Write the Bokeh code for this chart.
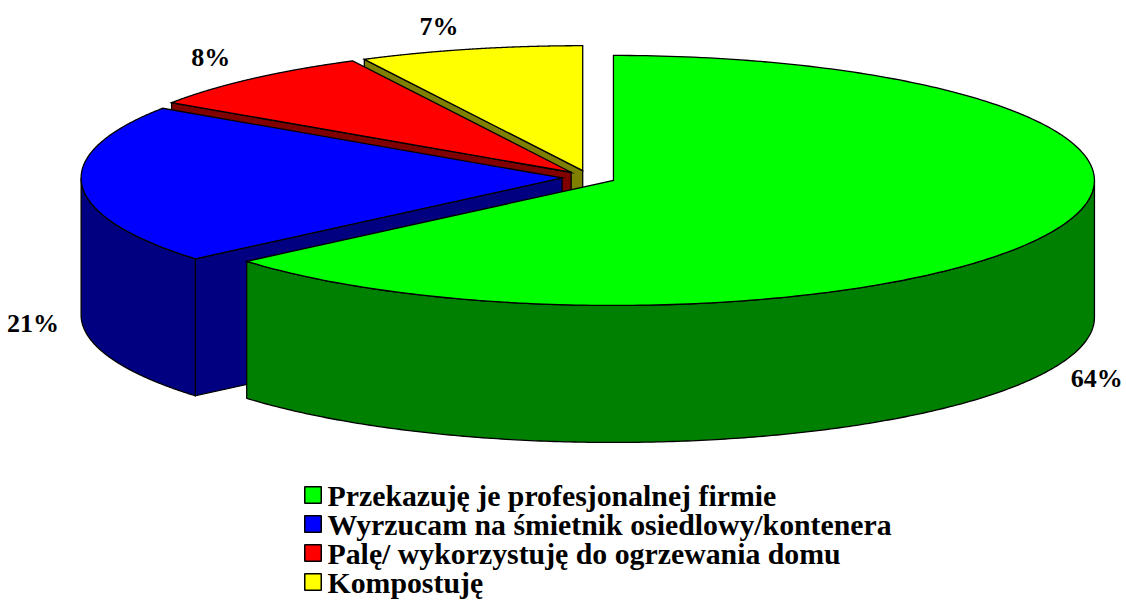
import numpy as np
from bokeh.plotting import figure
from bokeh.models import Range1d
from bokeh.core.properties import value
from bokeh.embed import file_html
from bokeh.resources import INLINE

# ---------------- data ----------------
categories = [
    "Przekazuję je profesjonalnej firmie",
    "Wyrzucam na śmietnik osiedlowy/kontenera",
    "Palę/ wykorzystuję do ogrzewania domu",
    "Kompostuję",
]
shares = [63.8, 20.6, 8.1, 7.5]
pct_labels = ["64%", "21%", "8%", "7%"]
top_colors = ["#00FF00", "#0000FF", "#FF0000", "#FFFF00"]
side_colors = ["#008000", "#000080", "#800000", "#808000"]

# ---------------- geometry ----------------
W, H = 1126, 604
CX, CY = 588.5, 177.0      # pie centre (pixels, y down)
RX, RY = 481.0, 125.0      # ellipse radii of the top face
DEPTH = 137.0              # thickness of the pie
EXPLODE = 0.056            # explosion as fraction of radius
N = 240

p = figure(width=W, height=H, x_range=Range1d(0, W), y_range=Range1d(H, 0),
           x_axis_type=None, y_axis_type=None, toolbar_location=None,
           output_backend="svg", min_border=0)
p.outline_line_color = None
p.background_fill_color = "white"
p.border_fill_color = "white"


def rim(cx, cy, th_deg):
    r = np.radians(th_deg)
    return cx + RX * np.sin(r), cy - RY * np.cos(r)


total = float(sum(shares))
starts, ends = [], []
acc = 0.0
for s in shares:
    starts.append(360.0 * acc / total)
    acc += s
    ends.append(360.0 * acc / total)

xs_all, ys_all, fills = [], [], []
label_x, label_y = [], []
centres = []
for i in range(len(shares)):
    a, b = starts[i], ends[i]
    mid = np.radians((a + b) / 2)
    ox = CX + EXPLODE * RX * np.sin(mid)
    oy = CY - EXPLODE * RY * np.cos(mid)
    centres.append((ox, oy))
    s_, c_ = np.sin(mid), np.cos(mid)
    lx, ly = rim(ox, oy, (a + b) / 2)
    dx = s_ * 23 + np.sign(s_) * 26
    if c_ < 0:
        ly = ly + DEPTH - c_ * 20
    else:
        ly = ly - c_ * 5 - 18
    label_x.append(lx + dx)
    label_y.append(ly)

# draw back-to-front: last slices are at the back
for i in reversed(range(len(shares))):
    a, b = starts[i], ends[i]
    ox, oy = centres[i]
    if np.sin(np.radians(a)) < -1e-6:
        rx_, ry_ = rim(ox, oy, a)
        xs_all.append([ox, rx_, rx_, ox])
        ys_all.append([oy, ry_, ry_ + DEPTH, oy + DEPTH])
        fills.append(side_colors[i])
    if np.sin(np.radians(b)) > 1e-6:
        rx_, ry_ = rim(ox, oy, b)
        xs_all.append([ox, rx_, rx_, ox])
        ys_all.append([oy, ry_, ry_ + DEPTH, oy + DEPTH])
        fills.append(side_colors[i])
    t1, t2 = max(a, 90.0), min(b, 270.0)
    if t2 > t1:
        th = np.linspace(t1, t2, N)
        ax, ay = rim(ox, oy, th)
        xs_all.append(list(ax) + list(ax[::-1]))
        ys_all.append(list(ay) + list((ay + DEPTH)[::-1]))
        fills.append(side_colors[i])
    th = np.linspace(a, b, N)
    ax, ay = rim(ox, oy, th)
    xs_all.append([ox] + list(ax))
    ys_all.append([oy] + list(ay))
    fills.append(top_colors[i])

p.patches(xs=xs_all, ys=ys_all, fill_color=fills, line_color="black",
          line_width=1.3, line_join="miter")

FONT = value("Liberation Serif")
p.text(x=label_x, y=label_y, text=pct_labels, text_font=FONT,
       text_font_style="bold", text_font_size="26px",
       text_align="center", text_baseline="middle", text_color="black")

# ---------------- legend ----------------
LEG_SQ_X, LEG_TXT_X = 312.5, 327.0
LEG_Y0, LEG_DY, SQ = 494.5, 29.0, 16.5
rows_y = [LEG_Y0 + k * LEG_DY for k in range(len(categories))]
p.rect(x=[LEG_SQ_X] * len(categories), y=rows_y, width=SQ, height=SQ,
       fill_color=top_colors, line_color="black", line_width=1.5)
p.text(x=[LEG_TXT_X] * len(categories), y=rows_y, text=categories,
       text_font=FONT, text_font_style="bold", text_font_size="29.8px",
       text_align="left", text_baseline="middle", text_color="black")

open("out.html", "w").write(file_html(p, INLINE))
